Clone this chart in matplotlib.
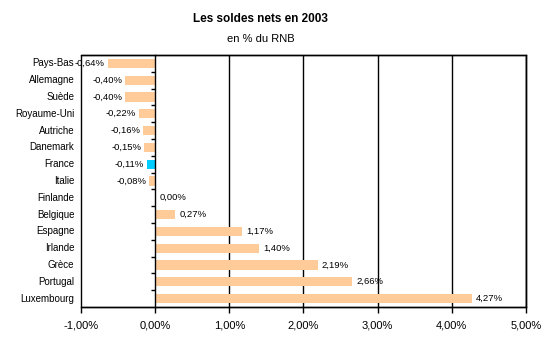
import matplotlib
matplotlib.use('Agg')
import matplotlib.pyplot as plt
import matplotlib.transforms as mtransforms

plt.rcParams['font.family'] = ['Liberation Sans', 'DejaVu Sans']

# Données : soldes nets en 2003, en % du RNB
pays = ['Pays-Bas', 'Allemagne', 'Suède', 'Royaume-Uni', 'Autriche', 'Danemark',
        'France', 'Italie', 'Finlande', 'Belgique', 'Espagne', 'Irlande', 'Grèce',
        'Portugal', 'Luxembourg']
soldes = [-0.64, -0.40, -0.40, -0.22, -0.16, -0.15, -0.11, -0.08, 0.00, 0.27,
          1.17, 1.40, 2.19, 2.66, 4.27]
graduations = [-1, 0, 1, 2, 3, 4, 5]

def fmt(v):
    return f'{v:.2f}'.replace('.', ',') + '%'

fig = plt.figure(figsize=(5.6, 3.5), dpi=100)
ax = fig.add_axes([0.1446, 0.123, 0.7946, 0.720])

couleurs = ['#00CCFF' if p == 'France' else '#FFCC99' for p in pays]
pos = list(range(len(pays)))
ax.barh(pos, soldes, height=0.55, color=couleurs, zorder=3)

# Etiquettes de valeurs
for y, v in zip(pos, soldes):
    if v < 0:
        ax.annotate(fmt(v), xy=(v, y), xytext=(-2, 0), textcoords='offset points',
                    ha='right', va='center', fontsize=6.8, zorder=4)
    else:
        ax.annotate(fmt(v), xy=(v, y), xytext=(3, 0), textcoords='offset points',
                    ha='left', va='center', fontsize=6.8, zorder=4)

# Noms des pays à gauche de la zone de tracé
trans = mtransforms.blended_transform_factory(ax.transAxes, ax.transData)
for y, p in zip(pos, pays):
    ax.text(-0.015, y, p, transform=trans, ha='right', va='center', fontsize=7)

ax.set_xlim(-1, 5)
ax.set_ylim(len(pays) - 0.5, -0.5)
ax.set_xticks(graduations)
ax.set_xticklabels([fmt(g) for g in graduations], fontsize=8)
ax.tick_params(axis='x', direction='out', length=4, width=1, pad=6)

# Grille verticale
for g in graduations[2:]:
    ax.axvline(g, color='black', lw=1, zorder=2)

# Axe des catégories sur 0 avec graduations entre les pays
ax.set_yticks([])
ax.set_yticks([i + 0.5 for i in pos[:-1]], minor=True)
ax.spines['left'].set_position(('data', 0))
ax.tick_params(axis='y', which='minor', direction='out', length=3, width=1)
ax.tick_params(axis='y', which='major', length=0)

for s in ax.spines.values():
    s.set_linewidth(1)
    s.set_zorder(5)
ax.patch.set_edgecolor('black')
ax.patch.set_linewidth(1)

fig.text(0.465, 0.945, 'Les soldes nets en 2003', ha='center', va='center',
         fontsize=8.5, fontweight='bold')
fig.text(0.465, 0.89, 'en % du RNB', ha='center', va='center', fontsize=8)

fig.savefig('out.png', dpi=100)
